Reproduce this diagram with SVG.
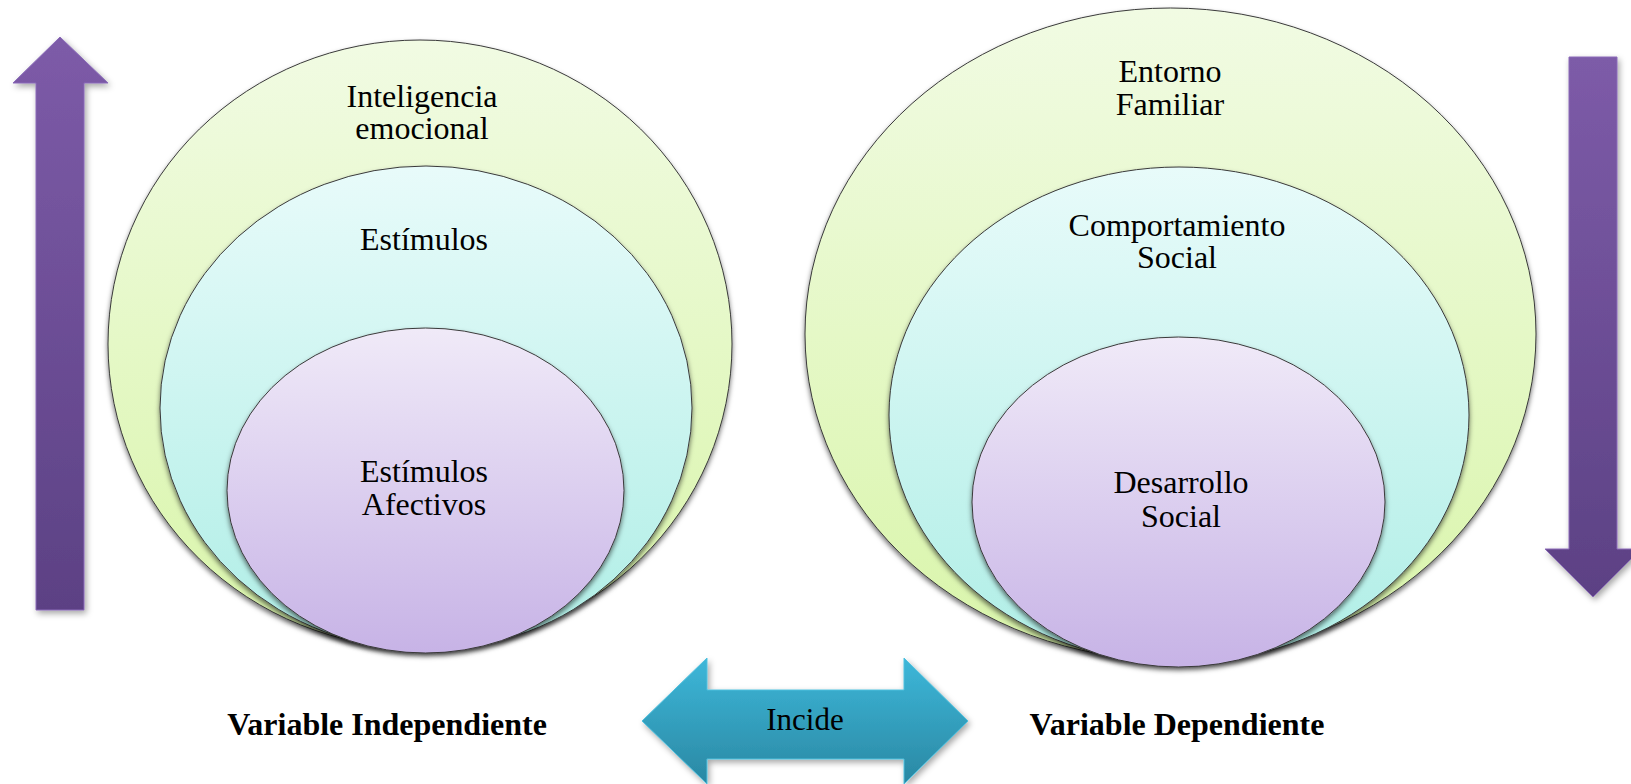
<svg xmlns="http://www.w3.org/2000/svg" width="1631" height="784" viewBox="0 0 1631 784">
<defs>
<linearGradient id="gGreen" x1="0" y1="0" x2="0" y2="1"><stop offset="0" stop-color="#f1fbe3"/><stop offset="1" stop-color="#d9f5aa"/></linearGradient>
<linearGradient id="gCyan" x1="0" y1="0" x2="0" y2="1"><stop offset="0" stop-color="#e8fbfa"/><stop offset="1" stop-color="#afeee6"/></linearGradient>
<linearGradient id="gPurple" x1="0" y1="0" x2="0" y2="1"><stop offset="0" stop-color="#f0eaf8"/><stop offset="1" stop-color="#c7b3e6"/></linearGradient>
<linearGradient id="gArrow" x1="0" y1="0" x2="0" y2="1"><stop offset="0" stop-color="#7d5ba8"/><stop offset="1" stop-color="#5c4184"/></linearGradient>
<linearGradient id="gBlue" x1="0" y1="0" x2="0" y2="1"><stop offset="0" stop-color="#3db7d9"/><stop offset="1" stop-color="#2a88a3"/></linearGradient>
<filter id="shE" x="-10%" y="-10%" width="120%" height="125%"><feDropShadow dx="0" dy="3" stdDeviation="2.5" flood-color="#000" flood-opacity="0.55"/></filter>
<filter id="shA" x="-20%" y="-10%" width="140%" height="120%"><feDropShadow dx="2" dy="3" stdDeviation="3" flood-color="#000" flood-opacity="0.35"/></filter>
<style>
.e{stroke:#3a3a3a;stroke-width:1;filter:url(#shE)}
.t{font-family:"Liberation Serif","Times New Roman",serif;font-size:32px;fill:#000;text-anchor:middle}
.b{font-weight:bold}
.arr{fill:url(#gArrow);stroke:#8a6bb8;stroke-width:1;filter:url(#shA)}
</style>
</defs>
<rect width="1631" height="784" fill="#fff"/>
<g id="arrow-up"><path class="arr" d="M60,37 L108,83 L84,83 L84,610 L36,610 L36,83 L13,83 Z"/></g>
<g id="arrow-down"><path class="arr" d="M1569,57 L1617,57 L1617,549 L1641,549 L1593,597 L1545,549 L1569,549 Z"/></g>
<g id="left-outer"><ellipse class="e" cx="420" cy="344" rx="312" ry="304" fill="url(#gGreen)"/><text class="t" x="422" y="107">Inteligencia</text><text class="t" x="422" y="139">emocional</text></g>
<g id="left-middle"><ellipse class="e" cx="426" cy="408" rx="266" ry="242" fill="url(#gCyan)"/><text class="t" x="424" y="250">Estímulos</text></g>
<g id="left-inner"><ellipse class="e" cx="425.5" cy="490.5" rx="198.5" ry="162.5" fill="url(#gPurple)"/><text class="t" x="424" y="482">Estímulos</text><text class="t" x="424" y="515">Afectivos</text></g>
<g id="right-outer"><ellipse class="e" cx="1170.5" cy="334" rx="365.5" ry="326" fill="url(#gGreen)"/><text class="t" x="1170" y="82">Entorno</text><text class="t" x="1170" y="115">Familiar</text></g>
<g id="right-middle"><ellipse class="e" cx="1179" cy="415" rx="290" ry="248" fill="url(#gCyan)"/><text class="t" x="1177" y="236">Comportamiento</text><text class="t" x="1177" y="268">Social</text></g>
<g id="right-inner"><ellipse class="e" cx="1178.5" cy="502" rx="206.5" ry="165" fill="url(#gPurple)"/><text class="t" x="1181" y="493">Desarrollo</text><text class="t" x="1181" y="527">Social</text></g>
<g id="connectors"><path d="M642,721 L707,658 L707,690 L904,690 L904,658 L968,721 L904,784 L904,759 L707,759 L707,784 Z" fill="url(#gBlue)" stroke="#4fc0de" stroke-width="1" filter="url(#shA)"/><text class="t" x="805" y="730" style="font-size:31px">Incide</text></g>
<g id="label-independiente"><text class="t b" x="387" y="735">Variable Independiente</text></g>
<g id="label-dependiente"><text class="t b" x="1177" y="735">Variable Dependiente</text></g>
</svg>
